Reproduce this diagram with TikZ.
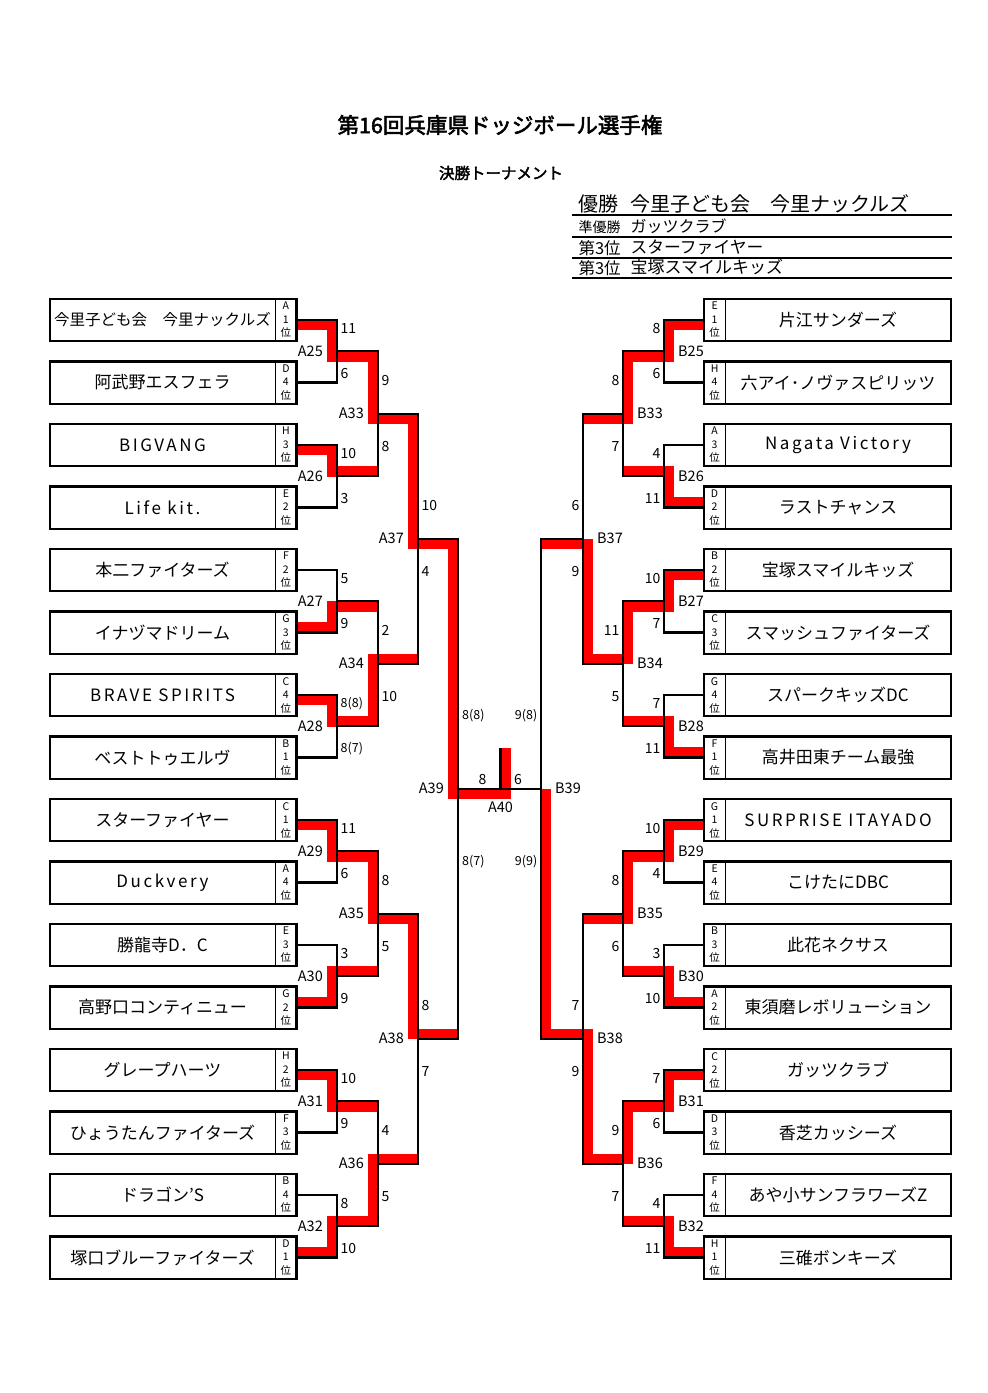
\documentclass[tikz,border=0pt]{standalone}
\usepackage{fontspec}
\setmainfont{Noto Sans CJK JP}[AutoFakeBold=2.5]
\usetikzlibrary{calc,positioning}
\pgfdeclarelayer{back}
\pgfsetlayers{back,main}
\newcommand\lat{\addfontfeatures{LetterSpace=15}}

\begin{document}
\begin{tikzpicture}[x=1pt,y=-1pt,
  team/.style={minimum width=225pt,minimum height=42pt,inner sep=0pt,font=\fontsize{17}{17}\selectfont},
  place/.style={minimum width=21pt,minimum height=42pt,inner sep=0pt,align=center,font=\fontsize{10.5}{13.5}\selectfont},
  boxline/.style={line width=2.4pt},
  bk/.style={line width=2.4pt},
  win/.style={line width=10.5pt,red},
  score/.style={font=\fontsize{14}{14}\selectfont,inner sep=1pt},
  pkscore/.style={font=\fontsize{12.5}{12.5}\selectfont,inner sep=1pt},
  match/.style={font=\fontsize{14.5}{14.5}\selectfont,inner sep=1pt},
  resline/.style={line width=2pt}]
\useasboundingbox (0,0) rectangle (988,1393);

\node[font=\fontsize{21.5}{21.5}\selectfont\bfseries] (title) at (500,125) {第16回兵庫県ドッジボール選手権};
\node[font=\fontsize{15.5}{15.5}\selectfont\bfseries] (sub) at (501,173) {決勝トーナメント};

% results
\node[anchor=west,font=\fontsize{20}{20}\selectfont] (p1) at (575,204) {優勝};
\node[anchor=west,font=\fontsize{20}{20}\selectfont] (w1) at (627,204) {今里子ども会　今里ナックルズ};
\node[anchor=west,font=\fontsize{14}{14}\selectfont] (p2) at (575,227) {準優勝};
\node[anchor=west,font=\fontsize{16}{16}\selectfont] (w2) at (627,226) {ガッツクラブ};
\node[anchor=west,font=\fontsize{16.5}{16.5}\selectfont] (p3) at (575,248) {第3位};
\node[anchor=west,font=\fontsize{16.8}{16.8}\selectfont] (w3) at (627,247) {スターファイヤー};
\node[anchor=west,font=\fontsize{16.5}{16.5}\selectfont] (p4) at (575,268) {第3位};
\node[anchor=west,font=\fontsize{17}{17}\selectfont] (w4) at (627,267) {宝塚スマイルキッズ};
\foreach \y in {215,236.5,257.5,278}
  \draw[resline] (572,\y) -- (952,\y);

% teams
\foreach \i/\nm/\grp/\rk in {
  1/{\fontsize{15.5}{15.5}\selectfont 今里子ども会　今里ナックルズ}/A/1,
  2/阿武野エスフェラ/D/4,
  3/{\lat BIGVANG}/H/3,
  4/{\lat Life kit.}/E/2,
  5/本二ファイターズ/F/2,
  6/イナヅマドリーム/G/3,
  7/{\lat BRAVE SPIRITS}/C/4,
  8/ベストトゥエルヴ/B/1,
  9/スターファイヤー/C/1,
  10/{\lat Duckvery}/A/4,
  11/勝龍寺D．C/E/3,
  12/高野口コンティニュー/G/2,
  13/グレープハーツ/H/2,
  14/ひょうたんファイターズ/F/3,
  15/ドラゴン’S/B/4,
  16/塚口ブルーファイターズ/D/1}{
  \node[team] (l\i) at (162.5,{320+62.5*(\i-1)}) {\nm};
  \node[place,right=0pt of l\i] (lr\i) {\grp\\\rk\\位};
  \draw[boxline] (l\i.north west) rectangle (lr\i.south east);
  \draw[line width=1.2pt] (lr\i.north west) -- (lr\i.south west);
}
\foreach \i/\nm/\grp/\rk in {
  1/片江サンダーズ/E/1,
  2/六アイ･ノヴァスピリッツ/H/4,
  3/{\lat Nagata Victory}/A/3,
  4/ラストチャンス/D/2,
  5/宝塚スマイルキッズ/B/2,
  6/スマッシュファイターズ/C/3,
  7/スパークキッズDC/G/4,
  8/高井田東チーム最強/F/1,
  9/{\lat SURPRISE ITAYADO}/G/1,
  10/こけたにDBC/E/4,
  11/此花ネクサス/B/3,
  12/東須磨レボリューション/A/2,
  13/ガッツクラブ/C/2,
  14/香芝カッシーズ/D/3,
  15/あや小サンフラワーズZ/F/4,
  16/三碓ボンキーズ/H/1}{
  \node[team] (r\i) at (838,{320+62.5*(\i-1)}) {\nm};
  \node[place,left=0pt of r\i] (rr\i) {\grp\\\rk\\位};
  \draw[boxline] (rr\i.north west) rectangle (r\i.south east);
  \draw[line width=1.2pt] (rr\i.north east) -- (rr\i.south east);
}

% match points
\foreach \k in {0,...,7}{
  \pgfmathtruncatemacro\m{25+\k}
  \coordinate (A\m) at (337,{351.25+125*\k});
  \coordinate (B\m) at (664,{351.25+125*\k});
}
\foreach \k in {0,...,3}{
  \pgfmathtruncatemacro\m{33+\k}
  \coordinate (A\m) at (378,{413.75+250*\k});
  \coordinate (B\m) at (623,{413.75+250*\k});
}
\coordinate (A37) at (418,538.75);
\coordinate (A38) at (418,1038.75);
\coordinate (B37) at (583,538.75);
\coordinate (B38) at (583,1038.75);
\coordinate (A39) at (458,788.75);
\coordinate (B39) at (541,788.75);
\coordinate (A40) at (500.5,788.75);
\coordinate (A40m) at (500.5,748);

% winners
\begin{pgfonlayer}{back}
\foreach \t/\m/\o in {1/25/5, 3/26/5, 6/27/-5, 7/28/5, 9/29/5, 12/30/-5, 13/31/5, 16/32/-5}
  \draw[win] ($(lr\t.east)+(0,\o)$) -| ($(A\m)+(-5,0)$);
\foreach \t/\m/\o in {1/25/5, 4/26/-5, 5/27/5, 8/28/-5, 9/29/5, 12/30/-5, 13/31/5, 16/32/-5}
  \draw[win] ($(rr\t.west)+(0,\o)$) -| ($(B\m)+(5,0)$);
\foreach \m/\p/\o in {25/33/5, 26/33/-5, 27/34/5, 28/34/-5, 29/35/5, 30/35/-5, 31/36/5, 32/36/-5,
    33/37/5, 34/37/-5, 35/38/5, 36/38/-5, 37/39/5, 38/39/-5}{
  \draw[win] ($(A\m)+(-10,\o)$) -- ($(A\m -| A\p)+(0,\o)$);
  \draw[win] ($(B\m)+(10,\o)$) -- ($(B\m -| B\p)+(0,\o)$);
}
\foreach \f/\m in {25/33, 28/34, 29/35, 32/36, 33/37, 35/38, 37/39}
  \draw[win] ($(A\f -| A\m)+(-5,0)$) -- ($(A\m)+(-5,0)$);
\foreach \f/\m in {25/33, 27/34, 29/35, 31/36, 34/37, 36/38, 38/39}
  \draw[win] ($(B\f -| B\m)+(5,0)$) -- ($(B\m)+(5,0)$);
\draw[win] ($(A39)+(-10,5)$) -- ($(A40)+(10.5,5)$);
\draw[win] ($(A40m)+(5,0)$) -- ($(A40)+(5,10)$);
\end{pgfonlayer}

% brackets
\foreach \k in {0,...,7}{
  \pgfmathtruncatemacro\m{25+\k}
  \pgfmathtruncatemacro\ta{2*\k+1}
  \pgfmathtruncatemacro\tb{2*\k+2}
  \draw[bk] (lr\ta.east) -| (A\m) |- (lr\tb.east);
  \draw[bk] (rr\ta.west) -| (B\m) |- (rr\tb.west);
}
\foreach \m/\p/\q in {33/25/26, 34/27/28, 35/29/30, 36/31/32, 37/33/34, 38/35/36, 39/37/38}{
  \draw[bk] (A\p) -| (A\m) |- (A\q);
  \draw[bk] (B\p) -| (B\m) |- (B\q);
}
\draw[bk] (A39) -- (B39);
\draw[bk] (A40m) -- (A40);

% scores
\foreach \m/\dy/\sa/\sb in {25/22.5/11/6, 26/22.5/10/3, 27/22.5/5/9, 29/22.5/11/6, 30/22.5/3/9, 31/22.5/10/9, 32/22.5/8/10,
    33/33/9/8, 34/33/2/10, 35/33/8/5, 36/33/4/5, 37/33/10/4, 38/33/8/7}{
  \node[score,anchor=west] (A\m-t) at ($(A\m)+(2.5,-\dy)$) {\sa};
  \node[score,anchor=west] (A\m-b) at ($(A\m)+(2.5,\dy)$) {\sb};
}
\foreach \m/\dy/\sa/\sb in {25/22.5/8/6, 26/22.5/4/11, 27/22.5/10/7, 28/22.5/7/11, 29/22.5/10/4, 30/22.5/3/10, 31/22.5/7/6, 32/22.5/4/11,
    33/33/8/7, 34/33/11/5, 35/33/8/6, 36/33/9/7, 37/33/6/9, 38/33/7/9}{
  \node[score,anchor=east] (B\m-t) at ($(B\m)+(-2.5,-\dy)$) {\sa};
  \node[score,anchor=east] (B\m-b) at ($(B\m)+(-2.5,\dy)$) {\sb};
}
\node[pkscore,anchor=west] (A28-t) at ($(A28)+(2.5,-22.5)$) {8(8)};
\node[pkscore,anchor=west] (A28-b) at ($(A28)+(2.5,22.5)$) {8(7)};
\node[pkscore,anchor=west] (A39-t) at ($(A39)+(3,-73)$) {8(8)};
\node[pkscore,anchor=west] (A39-b) at ($(A39)+(3,73)$) {8(7)};
\node[pkscore,anchor=east] (B39-t) at ($(B39)+(-2.5,-73)$) {9(8)};
\node[pkscore,anchor=east] (B39-b) at ($(B39)+(-2.5,73)$) {9(9)};
\node[score] (A40-l) at ($(A40)+(-18,-9)$) {8};
\node[score] (A40-r) at ($(A40)+(17.5,-9)$) {6};

% match names
\foreach \m in {25,...,39}{
  \node[match,anchor=east] (A\m-n) at ($(A\m)+(-13,0)$) {A\m};
  \node[match,anchor=west] (B\m-n) at ($(B\m)+(13,0)$) {B\m};
}
\node[match] (A40-n) at ($(A40)+(0,19)$) {A40};
\end{tikzpicture}
\end{document}
